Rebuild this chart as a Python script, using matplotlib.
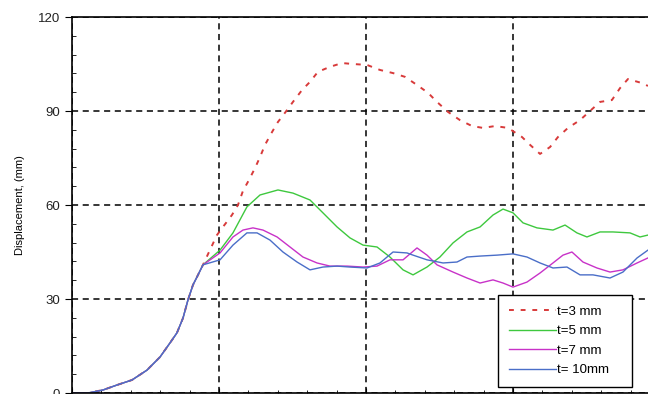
import numpy as np
import matplotlib
matplotlib.use("Agg")
import matplotlib.pyplot as plt
from matplotlib.ticker import MultipleLocator

plt.rcParams['font.family'] = ['Liberation Sans', 'DejaVu Sans']

# values (x in grid units, y in mm)
x_common = [0.0, 0.109, 0.211, 0.306, 0.408, 0.51, 0.599, 0.667, 0.714, 0.755, 0.789, 0.823, 0.85, 0.891]
y_common = [0.0, 0.0, 0.96, 2.55, 4.15, 7.3, 11.5, 16.0, 19.2, 23.9, 29.7, 34.5, 37.0, 40.9]

x_t3 = [0.986, 1.027, 1.088, 1.129, 1.163, 1.204, 1.245, 1.279, 1.313, 1.361, 1.401, 1.463, 1.503,
        1.565, 1.619, 1.673, 1.755, 1.837, 1.912, 2.007, 2.095, 2.184, 2.265, 2.347, 2.422, 2.483,
        2.558, 2.639, 2.721, 2.796, 2.878, 2.966, 3.061, 3.116, 3.184, 3.252, 3.306, 3.374, 3.456,
        3.524, 3.592, 3.673, 3.728, 3.782, 3.878, 3.918]
y_t3 = [50.4, 53.0, 56.8, 60.0, 64.5, 68.0, 71.8, 75.3, 79.2, 83.3, 86.5, 90.3, 92.9,
        96.7, 99.3, 102.5, 104.1, 105.3, 105.0, 104.7, 103.1, 102.1, 100.9, 98.3, 95.8, 92.9,
        89.7, 87.1, 85.2, 84.6, 85.2, 84.6, 81.7, 79.2, 76.3, 78.5, 81.7, 84.6, 87.1,
        90.0, 92.9, 93.5, 97.3, 100.2, 98.9, 98.0]

x_t5 = [1.007, 1.095, 1.19, 1.279, 1.401, 1.503, 1.619, 1.707, 1.803, 1.891, 1.98, 2.075, 2.163,
        2.252, 2.32, 2.415, 2.503, 2.592, 2.687, 2.776, 2.864, 2.932, 3.0, 3.068, 3.163, 3.272,
        3.354, 3.435, 3.503, 3.592, 3.68, 3.796, 3.864, 3.918]
y_t5 = [45.6, 51.1, 59.4, 63.2, 64.8, 63.8, 61.6, 57.5, 53.0, 49.5, 47.2, 46.6, 43.4,
        39.3, 37.7, 40.2, 43.4, 47.9, 51.4, 53.0, 56.8, 58.7, 57.5, 54.3, 52.7, 52.0,
        53.6, 51.1, 49.8, 51.4, 51.4, 51.1, 49.8, 50.4]

x_t7 = [1.007, 1.095, 1.163, 1.231, 1.299, 1.395, 1.483, 1.571, 1.667, 1.755, 1.871, 1.98, 2.075,
        2.163, 2.252, 2.347, 2.415, 2.483, 2.592, 2.687, 2.776, 2.864, 2.932, 3.0, 3.095, 3.184,
        3.272, 3.34, 3.401, 3.476, 3.571, 3.66, 3.748, 3.844, 3.918]
y_t7 = [44.7, 49.8, 52.0, 52.7, 52.0, 49.8, 46.6, 43.4, 41.5, 40.5, 40.5, 40.2, 40.5,
        42.5, 42.5, 46.3, 44.0, 40.9, 38.6, 36.7, 35.1, 36.1, 35.1, 33.8, 35.4, 38.3,
        41.5, 44.0, 45.0, 41.8, 39.9, 38.6, 39.3, 41.5, 43.1]

x_t10 = [1.007, 1.095, 1.19, 1.259, 1.347, 1.435, 1.531, 1.619, 1.707, 1.803, 1.891, 2.007, 2.095,
         2.184, 2.279, 2.32, 2.415, 2.524, 2.619, 2.687, 2.776, 2.891, 3.0, 3.095, 3.184, 3.272,
         3.367, 3.456, 3.544, 3.66, 3.748, 3.844, 3.918]
y_t10 = [42.5, 47.2, 51.1, 51.1, 48.8, 45.0, 41.8, 39.3, 40.2, 40.5, 40.2, 39.9, 41.5,
         45.0, 44.7, 44.0, 42.5, 41.5, 41.8, 43.4, 43.7, 44.0, 44.4, 43.4, 41.5, 39.9,
         40.2, 37.7, 37.7, 36.7, 38.6, 43.1, 45.6]

labels = ["t=3 mm", "t=5 mm", "t=7 mm", "t= 10mm"]

fig = plt.figure(figsize=(6.48, 3.94), dpi=100)
ax = fig.add_axes([72 / 648, 1 / 394, 588 / 648, 376 / 394])

ax.plot(x_common + x_t3, y_common + y_t3, color="#d83a3a", lw=1.4, dashes=(2.5, 3.5), label=labels[0])
ax.plot(x_common + x_t5, y_common + y_t5, color="#3ec83e", lw=1.0, label=labels[1])
ax.plot(x_common + x_t7, y_common + y_t7, color="#c832c8", lw=1.0, label=labels[2])
ax.plot(x_common + x_t10, y_common + y_t10, color="#4a6ec8", lw=1.0, label=labels[3])

ax.set_xlim(0, 4)
ax.set_ylim(0, 120)
ax.yaxis.set_major_locator(MultipleLocator(30))
ax.yaxis.set_minor_locator(MultipleLocator(6))
ax.xaxis.set_major_locator(MultipleLocator(1))
ax.xaxis.set_minor_locator(MultipleLocator(0.2))
ax.grid(True, which="major", color="black", linestyle=(0, (4, 3)), linewidth=1.1)
ax.tick_params(axis="y", which="major", direction="out", length=5, labelsize=9.5, labelcolor="#222222")
ax.tick_params(axis="y", which="minor", direction="in", length=3)
ax.tick_params(axis="x", which="both", direction="in", labelbottom=False)
ax.spines["right"].set_visible(False)
for s in ["left", "top", "bottom"]:
    ax.spines[s].set_linewidth(1.2)
ax.set_ylabel("Displacement, (mm)", fontsize=8, labelpad=9)

leg = ax.legend(loc="lower left", bbox_to_anchor=(426 / 588, 6 / 376, 134 / 588, 94 / 376), mode="expand",
                fontsize=9.5, handlelength=3.6, fancybox=False, framealpha=1, edgecolor="black",
                borderpad=0.8, labelspacing=0.55, handletextpad=0.05, borderaxespad=0)
leg.get_frame().set_linewidth(1.0)

fig.savefig("out.png", dpi=100)
